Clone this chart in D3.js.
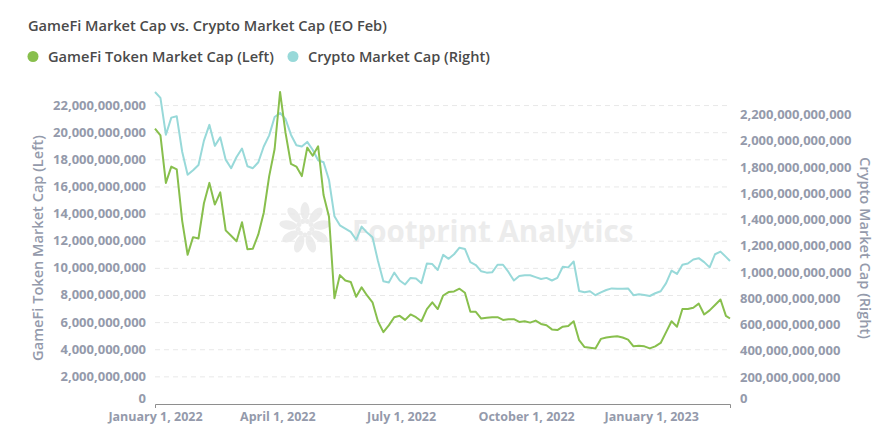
<!DOCTYPE html>
<html>
<head>
<meta charset="utf-8">
<script src="https://cdn.jsdelivr.net/npm/d3@7"></script>
<style>
  body { margin: 0; background: #fff; }
  text { font-family: "Open Sans", sans-serif; }
</style>
</head>
<body>
<svg id="chart" width="893" height="436"></svg>
<script>
// sample dates (every 4 days, plus the last day of Feb 2023)
const dates = ["2022-01-01","2022-01-05","2022-01-09","2022-01-13","2022-01-17","2022-01-21","2022-01-25","2022-01-29","2022-02-02","2022-02-06",
  "2022-02-10","2022-02-14","2022-02-18","2022-02-22","2022-02-26","2022-03-02","2022-03-06","2022-03-10","2022-03-14","2022-03-18",
  "2022-03-22","2022-03-26","2022-03-30","2022-04-03","2022-04-07","2022-04-11","2022-04-15","2022-04-19","2022-04-23","2022-04-27",
  "2022-05-01","2022-05-05","2022-05-09","2022-05-13","2022-05-17","2022-05-21","2022-05-25","2022-05-29","2022-06-02","2022-06-06",
  "2022-06-10","2022-06-14","2022-06-18","2022-06-22","2022-06-26","2022-06-30","2022-07-04","2022-07-08","2022-07-12","2022-07-16",
  "2022-07-20","2022-07-24","2022-07-28","2022-08-01","2022-08-05","2022-08-09","2022-08-13","2022-08-17","2022-08-21","2022-08-25",
  "2022-08-29","2022-09-02","2022-09-06","2022-09-10","2022-09-14","2022-09-18","2022-09-22","2022-09-26","2022-09-30","2022-10-04",
  "2022-10-08","2022-10-12","2022-10-16","2022-10-20","2022-10-24","2022-10-28","2022-11-01","2022-11-05","2022-11-09","2022-11-13",
  "2022-11-17","2022-11-21","2022-11-25","2022-11-29","2022-12-03","2022-12-07","2022-12-11","2022-12-15","2022-12-19","2022-12-23",
  "2022-12-27","2022-12-31","2023-01-04","2023-01-08","2023-01-12","2023-01-16","2023-01-20","2023-01-24","2023-01-28","2023-02-01",
  "2023-02-05","2023-02-09","2023-02-13","2023-02-17","2023-02-21","2023-02-25","2023-02-28"];

// GameFi token market cap, in billions USD (left axis)
const gamefiCap = [20.3, 19.8, 16.3, 17.5, 17.3, 13.5, 11.0, 12.3, 12.2, 14.8,
  16.3, 14.7, 15.6, 12.8, 12.4, 12.0, 13.4, 11.4, 11.45, 12.5,
  14.1, 16.8, 18.8, 23.0, 20.0, 17.7, 17.5, 16.8, 18.9, 18.3,
  19.0, 15.4, 13.8, 7.8, 9.5, 9.1, 9.0, 7.9, 8.6, 8.0,
  7.5, 6.1, 5.3, 5.8, 6.4, 6.5, 6.2, 6.6, 6.4, 6.1,
  7.0, 7.5, 7.0, 8.0, 8.25, 8.3, 8.5, 8.2, 6.8, 6.8,
  6.3, 6.35, 6.4, 6.4, 6.2, 6.25, 6.25, 6.05, 6.1, 6.0,
  6.15, 5.9, 5.8, 5.5, 5.45, 5.7, 5.75, 6.1, 4.7, 4.2,
  4.15, 4.1, 4.8, 4.9, 4.95, 5.0, 4.9, 4.75, 4.25, 4.3,
  4.25, 4.1, 4.25, 4.5, 5.3, 6.1, 5.7, 7.0, 7.0, 7.1,
  7.4, 6.6, 6.9, 7.3, 7.7, 6.5, 6.3];

// total crypto market cap, in billions USD (right axis)
const cryptoCap = [2375, 2330, 2050, 2180, 2190, 1920, 1745, 1780, 1820, 2005,
  2125, 1965, 2030, 1860, 1795, 1880, 1945, 1810, 1795, 1840,
  1960, 2045, 2185, 2215, 2170, 2050, 1970, 1960, 1995, 1935,
  1855, 1840, 1705, 1430, 1360, 1335, 1310, 1250, 1350, 1305,
  1270, 1090, 935, 925, 1000, 940, 910, 960, 955, 920,
  1070, 1065, 1020, 1135, 1105, 1140, 1190, 1180, 1080, 1058,
  1010, 1000, 1002, 1060, 1060, 1005, 940, 974, 980, 980,
  966, 952, 960, 940, 960, 1045, 1040, 1085, 860, 850,
  858, 828, 850, 868, 880, 878, 878, 880, 828, 835,
  830, 822, 843, 858, 920, 1015, 990, 1060, 1070, 1100,
  1110, 1080, 1040, 1140, 1160, 1120, 1089];

const seriesNames = ["GameFi Token Market Cap (Left)", "Crypto Market Cap (Right)"];
const seriesColors = ["#88bf4d", "#98d9d9"];
const chartTitle = "GameFi Market Cap vs. Crypto Market Cap (EO Feb)";

const svg = d3.select("#chart");
const parse = d3.timeParse("%Y-%m-%d");
const days = dates.map(parse);

const plotLeft = 155, plotRight = 730, plotTop = 92, plotBottom = 404;
const labelColor = "#949aab";

const x = d3.scaleTime()
  .domain([days[0], days[days.length - 1]])
  .range([plotLeft, plotRight]);
const yLeft = d3.scaleLinear()
  .domain([0, d3.max(gamefiCap)])
  .range([plotBottom, plotTop]);
const yRight = d3.scaleLinear()
  .domain([0, d3.max(cryptoCap)])
  .range([plotBottom, plotTop]);

// values are in billions; labels show full dollars
const fmt = d => d3.format(",.0f")(d * 1e9);
// the zero label sits a touch higher so it clears the date labels
const labelY = (scale, d) => scale(d) + (d === 0 ? -1 : 4);

// title
svg.append("text")
  .attr("x", 28).attr("y", 31)
  .style("font-size", "14.6px").style("font-weight", 600)
  .attr("fill", "#4a4a4a")
  .text(chartTitle);

// legend
const legendX = [33, 293];
seriesNames.forEach((name, i) => {
  svg.append("circle")
    .attr("cx", legendX[i]).attr("cy", 56.5).attr("r", 5.5)
    .attr("fill", seriesColors[i]);
  svg.append("text")
    .attr("x", legendX[i] + 15).attr("y", 61.5)
    .style("font-size", "14.6px").style("font-weight", 600)
    .attr("fill", "#4a4a4a")
    .text(name);
});

// watermark
const wm = svg.append("g").attr("fill", "#ececec");
const cx = 305, cy = 228;
for (let k = 0; k < 9; k++) {
  const a = k * 40 - 90;
  const r = (a * Math.PI) / 180;
  const px = cx + Math.cos(r) * 17, py = cy + Math.sin(r) * 17;
  wm.append("ellipse")
    .attr("cx", px).attr("cy", py)
    .attr("rx", 9).attr("ry", 4.5)
    .attr("transform", `rotate(${a},${px},${py})`);
  wm.append("circle")
    .attr("cx", cx + Math.cos(r + 0.35) * 7).attr("cy", cy + Math.sin(r + 0.35) * 7)
    .attr("r", 2.5);
}
wm.append("text")
  .attr("x", 352).attr("y", 242)
  .style("font-size", "29.5px").style("font-weight", 700)
  .text("Footprint Analytics");

// gridlines
const leftTicks = yLeft.ticks(12);
svg.append("g")
  .selectAll("line")
  .data(leftTicks.filter(d => d > 0))
  .join("line")
  .attr("x1", plotLeft).attr("x2", plotRight)
  .attr("y1", d => yLeft(d)).attr("y2", d => yLeft(d))
  .attr("stroke", "#e8e8e8")
  .attr("stroke-dasharray", "5,4");

// left axis labels
svg.append("g")
  .selectAll("text")
  .data(leftTicks)
  .join("text")
  .attr("x", 146).attr("y", d => labelY(yLeft, d))
  .attr("text-anchor", "end")
  .style("font-size", "13px").style("font-weight", 700)
  .attr("fill", labelColor)
  .text(fmt);

// right axis labels
svg.append("g")
  .selectAll("text")
  .data(yRight.ticks(12))
  .join("text")
  .attr("x", 740).attr("y", d => labelY(yRight, d))
  .attr("text-anchor", "start")
  .style("font-size", "13px").style("font-weight", 700)
  .attr("fill", labelColor)
  .text(fmt);

// axis titles
svg.append("text")
  .attr("transform", `translate(43,${(plotTop + plotBottom) / 2}) rotate(-90)`)
  .attr("text-anchor", "middle")
  .style("font-size", "14.6px").style("font-weight", 600)
  .attr("fill", labelColor)
  .text(seriesNames[0]);
svg.append("text")
  .attr("transform", `translate(860,${(plotTop + plotBottom) / 2}) rotate(90)`)
  .attr("text-anchor", "middle")
  .style("font-size", "14.6px").style("font-weight", 600)
  .attr("fill", labelColor)
  .text(seriesNames[1]);

// x axis
const xAxis = d3.axisBottom(x)
  .ticks(d3.timeMonth.every(3))
  .tickFormat(d3.timeFormat("%B %-d, %Y"))
  .tickSizeInner(0)
  .tickSizeOuter(4)
  .tickPadding(8);
const gx = svg.append("g")
  .attr("transform", `translate(0,${plotBottom})`)
  .call(xAxis);
gx.select(".domain").attr("stroke", "#8e8e8e");
gx.selectAll("text")
  .attr("fill", labelColor)
  .style("font-family", "'Open Sans', sans-serif")
  .style("font-size", "12.5px").style("font-weight", 700);

// lines
const lineLeft = d3.line()
  .x((d, i) => x(days[i]))
  .y(d => yLeft(d));
const lineRight = d3.line()
  .x((d, i) => x(days[i]))
  .y(d => yRight(d));

svg.append("path")
  .datum(cryptoCap)
  .attr("d", lineRight)
  .attr("fill", "none")
  .attr("stroke", seriesColors[1])
  .attr("stroke-width", 2)
  .attr("stroke-linejoin", "round");

svg.append("path")
  .datum(gamefiCap)
  .attr("d", lineLeft)
  .attr("fill", "none")
  .attr("stroke", seriesColors[0])
  .attr("stroke-width", 2)
  .attr("stroke-linejoin", "round");
</script>
</body>
</html>
